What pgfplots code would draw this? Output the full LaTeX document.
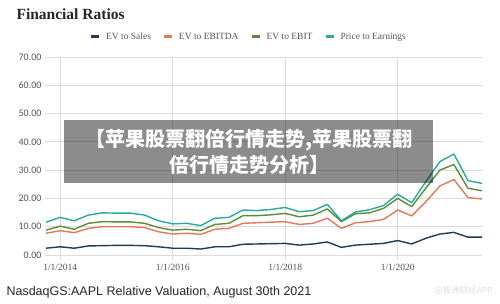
\documentclass[border=0pt]{standalone}
\usepackage{pgfplots}
\pgfplotsset{compat=1.18}
\usepackage{pgfplotstable}
\usepackage{fontspec}
\setmainfont{Liberation Serif}
\setsansfont{Liberation Sans}
\newfontfamily\calib{Carlito}
\newfontfamily\cjk{Noto Sans CJK SC}
\definecolor{cSales}{HTML}{1F3B57}
\definecolor{cEbitda}{HTML}{E07A5C}
\definecolor{cEbit}{HTML}{5A8C3A}
\definecolor{cPE}{HTML}{2AAA9C}
\definecolor{gridc}{HTML}{DCDCDC}
\definecolor{tickc}{HTML}{555555}

\pgfplotstableread{
x sales ebitda ebit pe
2013.75 2.4 7.7 8.8 11.6
2014.00 2.9 8.6 10.2 13.3
2014.25 2.4 7.9 9.1 12.1
2014.50 3.2 9.4 11.2 14.1
2014.75 3.3 10.0 11.8 14.9
2015.00 3.4 10.0 11.7 14.8
2015.25 3.4 10.0 11.7 14.8
2015.50 3.3 9.7 11.2 14.1
2015.75 2.9 8.2 9.7 12.1
2016.00 2.4 7.4 8.8 11.0
2016.25 2.4 7.7 9.1 11.2
2016.50 2.1 7.3 8.6 10.4
2016.75 2.9 9.1 10.8 13.0
2017.00 2.9 9.4 11.2 13.3
2017.25 3.8 11.2 13.9 15.9
2017.50 3.9 11.4 13.9 15.7
2017.75 4.0 11.6 14.2 16.1
2018.00 4.1 11.8 14.7 16.8
2018.25 3.5 10.8 13.5 15.3
2018.50 3.9 11.2 14.1 15.7
2018.75 4.6 13.0 16.3 17.9
2019.00 2.7 9.4 11.8 12.1
2019.25 3.5 11.4 14.6 15.2
2019.50 3.8 11.8 14.9 16.0
2019.75 4.1 12.6 16.5 17.5
2020.00 5.1 15.9 20.0 21.5
2020.25 3.9 13.8 17.1 18.5
2020.50 5.9 18.8 23.6 25.9
2020.75 7.4 24.4 30.0 33.0
2021.00 8.0 26.7 32.0 35.7
2021.25 6.3 20.3 23.6 26.3
2021.50 6.3 19.8 22.7 25.3
}\datatable

\begin{document}
\begin{tikzpicture}
\useasboundingbox[fill=white] (0pt,0pt) rectangle (500pt,304pt);
\begin{axis}[
  at={(45pt,49pt)}, anchor=south west,
  scale only axis, width=437pt, height=198pt,
  xmin=2013.73, xmax=2021.5,
  ymin=0, ymax=70,
  xtick={2014,2016,2018,2020},
  xticklabels={1/1/2014,1/1/2016,1/1/2018,1/1/2020},
  ytick={0,10,...,70},
  yticklabel={\pgfmathprintnumber[fixed,fixed zerofill,precision=2]{\tick}},
  /pgf/number format/assume math mode=true,
  axis line style={draw=none},
  grid=major,
  major grid style={gridc, line width=0.8pt},
  xtick pos=bottom, ytick pos=left,
  x tick style={gridc, line width=0.8pt},
  xtick align=outside,
  major tick length=5pt,
  y tick style={draw=none},
  x tick label style={font=\fontsize{9.5}{10}\selectfont, text=tickc, yshift=-1pt},
  y tick label style={font=\calib\fontsize{10}{11}\selectfont, text=tickc, xshift=0pt},
  extra y ticks={0},
  extra y tick labels={},
  extra y tick style={grid style={gray!50, line width=0.8pt}},
  legend columns=4,
  legend style={at={(0.468,1.101)}, anchor=center, draw=none, fill=none,
    font=\fontsize{9.5}{10}\selectfont, text=tickc,
    /tikz/every odd column/.append style={column sep=5pt},
    /tikz/every even column/.append style={column sep=11pt}},
  legend image code/.code={\fill[#1, draw=none] (0pt,-1.5pt) rectangle (8pt,1.5pt);},
  every axis plot/.append style={line width=1.4pt, line join=round},
]
\addplot[cSales] table[x=x,y=sales]{\datatable};
\addlegendentry{EV to Sales}
\addplot[cEbitda] table[x=x,y=ebitda]{\datatable};
\addlegendentry{EV to EBITDA}
\addplot[cEbit] table[x=x,y=ebit]{\datatable};
\addlegendentry{EV to EBIT}
\addplot[cPE] table[x=x,y=pe]{\datatable};
\addlegendentry{Price to Earnings}
\end{axis}
\node[anchor=west, font=\bfseries\fontsize{15.5}{17}\selectfont, text=black!85] at (13pt,290pt) {Financial Ratios};
\node[anchor=west, font=\sffamily\fontsize{12.5}{14}\selectfont, text=black!85] at (3pt,12pt) {NasdaqGS:AAPL Relative Valuation, August 30th 2021};
\node[anchor=east, font=\cjk\fontsize{8.5}{10}\selectfont, text=gray!25] at (496pt,13pt) {@智通财经APP};
\fill[black, fill opacity=0.45] (64pt,121pt) rectangle (433pt,184pt);
\node[align=center, text=white, font=\cjk\bfseries\fontsize{20}{26}\selectfont] at (249pt,152.5pt) {【苹果股票翻倍行情走势,苹果股票翻\\倍行情走势分析】};
\end{tikzpicture}
\end{document}
